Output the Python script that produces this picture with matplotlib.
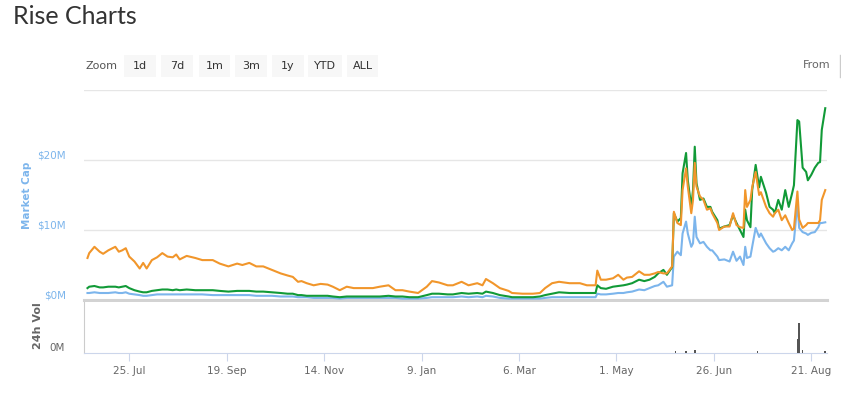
import matplotlib
matplotlib.use("Agg")
import matplotlib.pyplot as plt
from matplotlib.patches import Rectangle
from matplotlib.lines import Line2D
import pandas as pd

# ---------------- data ----------------
dates = [
    '2017-07-01','2017-07-02','2017-07-05','2017-07-08','2017-07-10','2017-07-13','2017-07-17','2017-07-19','2017-07-21','2017-07-23',
    '2017-07-25','2017-07-28','2017-07-31','2017-08-02','2017-08-04','2017-08-07','2017-08-10','2017-08-13','2017-08-16','2017-08-19',
    '2017-08-21','2017-08-23','2017-08-27','2017-09-01','2017-09-05','2017-09-11','2017-09-15','2017-09-20','2017-09-25','2017-09-28',
    '2017-10-02','2017-10-06','2017-10-10','2017-10-15','2017-10-20','2017-10-24','2017-10-27','2017-10-30','2017-11-01','2017-11-04',
    '2017-11-08','2017-11-12','2017-11-16','2017-11-19','2017-11-23','2017-11-27','2017-12-01','2017-12-06','2017-12-12','2017-12-16',
    '2017-12-21','2017-12-25','2017-12-29','2018-01-02','2018-01-07','2018-01-12','2018-01-15','2018-01-19','2018-01-24','2018-01-27',
    '2018-02-01','2018-02-05','2018-02-10','2018-02-13','2018-02-15','2018-02-19','2018-02-23','2018-02-28','2018-03-02','2018-03-08',
    '2018-03-14','2018-03-18','2018-03-21','2018-03-25','2018-03-29','2018-04-04','2018-04-10','2018-04-14','2018-04-19','2018-04-20',
    '2018-04-22','2018-04-25','2018-04-29','2018-05-02','2018-05-05','2018-05-07','2018-05-10','2018-05-14','2018-05-17','2018-05-20',
    '2018-05-23','2018-05-25','2018-05-28','2018-05-30','2018-06-02','2018-06-03','2018-06-05','2018-06-07','2018-06-08','2018-06-10',
    '2018-06-11','2018-06-13','2018-06-14','2018-06-15','2018-06-16','2018-06-18','2018-06-20','2018-06-22','2018-06-24','2018-06-25',
    '2018-06-28','2018-06-29','2018-07-02','2018-07-05','2018-07-07','2018-07-09','2018-07-11','2018-07-13','2018-07-14','2018-07-15',
    '2018-07-17','2018-07-18','2018-07-20','2018-07-22','2018-07-23','2018-07-26','2018-07-28','2018-07-30','2018-07-31','2018-08-02',
    '2018-08-04','2018-08-06','2018-08-08','2018-08-10','2018-08-11','2018-08-13','2018-08-14','2018-08-16','2018-08-18','2018-08-19',
    '2018-08-21','2018-08-23','2018-08-25','2018-08-26','2018-08-27','2018-08-29',
]

# orange series (millions)
series_orange = [
    6.0, 6.7, 7.6, 6.9, 6.6, 7.1, 7.6, 6.9, 7.1, 7.4,
    6.2, 5.5, 4.5, 5.3, 4.5, 5.7, 6.1, 6.7, 6.2, 6.1,
    6.5, 5.8, 6.3, 6.0, 5.7, 5.7, 5.2, 4.8, 5.2, 5.0,
    5.3, 4.8, 4.8, 4.3, 3.8, 3.5, 3.3, 2.6, 2.7, 2.4,
    2.1, 2.3, 2.2, 1.9, 1.4, 1.9, 1.7, 1.7, 1.7, 1.9,
    2.1, 1.4, 1.4, 1.2, 1.0, 1.9, 2.7, 2.5, 2.1, 2.1,
    2.6, 2.1, 2.4, 2.1, 3.0, 2.4, 1.7, 1.3, 1.0, 0.9,
    0.9, 1.0, 1.7, 2.4, 2.6, 2.4, 2.4, 2.1, 2.1, 4.2,
    2.9, 2.9, 3.1, 3.6, 2.9, 3.2, 3.3, 4.1, 3.6, 3.6,
    3.8, 4.0, 3.8, 3.8, 4.8, 12.6, 11.0, 10.7, 15.7, 18.8,
    16.2, 12.4, 14.3, 19.6, 16.2, 14.8, 14.3, 12.9, 13.1, 12.4,
    11.0, 10.0, 10.5, 10.5, 12.4, 10.7, 10.4, 10.3, 15.7, 13.3,
    14.3, 16.1, 18.3, 15.0, 15.4, 13.3, 12.4, 11.9, 12.4, 12.9,
    11.4, 12.1, 11.0, 10.0, 10.2, 15.5, 11.5, 10.3, 10.7, 11.0,
    11.0, 11.0, 11.0, 11.4, 14.3, 15.7,
]

# green series (millions)
series_green = [
    1.7, 1.9, 2.0, 1.8, 1.8, 1.9, 1.9, 1.8, 1.9, 2.0,
    1.7, 1.4, 1.2, 1.1, 1.1, 1.3, 1.4, 1.5, 1.5, 1.4,
    1.5, 1.4, 1.5, 1.4, 1.4, 1.4, 1.3, 1.2, 1.3, 1.3,
    1.3, 1.2, 1.2, 1.1, 1.0, 0.9, 0.9, 0.7, 0.7, 0.6,
    0.6, 0.6, 0.6, 0.5, 0.4, 0.5, 0.5, 0.5, 0.5, 0.5,
    0.6, 0.5, 0.5, 0.4, 0.4, 0.7, 0.9, 0.9, 0.8, 0.8,
    1.0, 0.9, 1.0, 0.9, 1.2, 1.0, 0.7, 0.5, 0.4, 0.4,
    0.4, 0.5, 0.7, 0.9, 1.1, 1.0, 1.0, 1.0, 1.0, 2.1,
    1.7, 1.6, 1.9, 2.0, 2.1, 2.2, 2.4, 2.9, 2.7, 2.9,
    3.3, 3.8, 4.3, 3.6, 4.7, 12.4, 11.2, 11.7, 18.1, 21.0,
    17.1, 13.3, 15.7, 21.9, 16.7, 14.3, 14.5, 13.3, 13.3, 12.6,
    11.4, 10.2, 10.5, 10.7, 12.1, 11.0, 10.0, 9.0, 12.9, 11.4,
    10.4, 15.7, 19.3, 16.1, 17.6, 15.3, 13.3, 12.9, 12.4, 14.3,
    12.9, 15.7, 13.3, 15.3, 16.4, 25.7, 25.5, 18.9, 18.3, 17.1,
    17.9, 18.9, 19.6, 19.7, 24.3, 27.4,
]

# blue series - market cap (millions)
series_blue = [
    1.0, 1.0, 1.1, 1.0, 1.0, 1.0, 1.1, 1.0, 1.0, 1.1,
    0.9, 0.8, 0.7, 0.6, 0.6, 0.7, 0.8, 0.8, 0.8, 0.8,
    0.8, 0.8, 0.8, 0.8, 0.8, 0.7, 0.7, 0.7, 0.7, 0.7,
    0.7, 0.6, 0.6, 0.6, 0.5, 0.5, 0.5, 0.4, 0.4, 0.4,
    0.3, 0.3, 0.3, 0.3, 0.2, 0.3, 0.3, 0.3, 0.3, 0.3,
    0.3, 0.3, 0.2, 0.2, 0.2, 0.3, 0.4, 0.4, 0.4, 0.4,
    0.5, 0.4, 0.5, 0.4, 0.6, 0.5, 0.3, 0.2, 0.2, 0.2,
    0.2, 0.2, 0.3, 0.4, 0.4, 0.4, 0.4, 0.4, 0.4, 0.9,
    0.8, 0.8, 0.9, 1.0, 1.0, 1.1, 1.2, 1.5, 1.4, 1.7,
    2.0, 2.1, 2.6, 1.9, 2.1, 6.2, 6.9, 6.4, 9.5, 11.2,
    9.5, 7.6, 8.1, 11.9, 9.0, 8.1, 8.3, 7.6, 7.1, 7.1,
    6.2, 5.7, 5.8, 5.5, 6.9, 5.6, 6.2, 5.0, 7.6, 6.0,
    6.2, 7.6, 10.3, 9.0, 9.5, 8.1, 7.4, 6.9, 7.0, 7.4,
    7.1, 7.6, 7.1, 8.1, 8.5, 13.8, 10.3, 9.7, 9.5, 9.3,
    9.6, 9.7, 10.4, 11.0, 11.0, 11.1,
]

vol_dates = ['2018-06-04', '2018-06-10', '2018-06-15', '2018-07-21',
             '2018-08-13', '2018-08-14', '2018-08-16', '2018-08-29']
vol_values = [0.12, 0.12, 0.15, 0.10, 0.8, 1.75, 0.18, 0.12]

tick_dates = ['2017-07-25', '2017-09-19', '2017-11-14', '2018-01-09',
              '2018-03-06', '2018-05-01', '2018-06-26', '2018-08-21']
tick_labels = ['25. Jul', '19. Sep', '14. Nov', '9. Jan',
               '6. Mar', '1. May', '26. Jun', '21. Aug']

y_ticks = [0, 10, 20, 30]
y_labels = ['$0M', '$10M', '$20M', '']

zoom_buttons = ['1d', '7d', '1m', '3m', '1y', 'YTD', 'ALL']

# ---------------- figure ----------------
W, H = 841, 399
fig = plt.figure(figsize=(W / 100, H / 100), dpi=100)
fig.patch.set_facecolor('white')


def fx(px):
    return px / W


def fy(py):
    return 1 - py / H


d = pd.to_datetime(dates)
vd = pd.to_datetime(vol_dates)
xmin, xmax = pd.Timestamp('2017-06-29'), pd.Timestamp('2018-08-30')

ax = fig.add_axes([fx(84), fy(300), fx(827) - fx(84), fy(90) - fy(300)])
axv = fig.add_axes([fx(84), fy(353), fx(827) - fx(84), fy(302) - fy(353)])

ax.plot(d, series_blue, color='#7cb5ec', lw=1.5, zorder=3, solid_joinstyle='round')
ax.plot(d, series_green, color='#119a37', lw=1.5, zorder=4, solid_joinstyle='round')
ax.plot(d, series_orange, color='#f1962b', lw=1.5, zorder=5, solid_joinstyle='round')

ax.set_xlim(xmin, xmax)
ax.set_ylim(0, 30)
ax.set_yticks(y_ticks)
ax.set_yticklabels(y_labels)
ax.grid(axis='y', color='#e6e6e6', lw=1)
ax.set_axisbelow(True)
ax.tick_params(axis='y', length=0, pad=13, labelcolor='#7cb5ec', labelsize=7.5)
ax.tick_params(axis='x', bottom=False, labelbottom=False)
for lab in ax.get_yticklabels():
    lab.set_va('bottom')
for s in ['top', 'left', 'right']:
    ax.spines[s].set_visible(False)
ax.spines['bottom'].set_color('#d3d3d3')
ax.spines['bottom'].set_linewidth(2.2)

# volume panel
axv.bar(vd, vol_values, width=0.9, color='#555555', zorder=3)
axv.set_xlim(xmin, xmax)
axv.set_ylim(0, 3)
axv.set_yticks([0])
axv.set_yticklabels(['0M'])
axv.tick_params(axis='y', length=0, pad=14, labelcolor='#666666', labelsize=7.5)
for lab in axv.get_yticklabels():
    lab.set_va('bottom')
axv.set_xticks(pd.to_datetime(tick_dates))
axv.set_xticklabels(tick_labels)
axv.tick_params(axis='x', length=6, color='#ccd6eb', labelcolor='#666666',
                labelsize=7.5, pad=3)
for s in ['top', 'right']:
    axv.spines[s].set_visible(False)
axv.spines['left'].set_color('#cccccc')
axv.spines['bottom'].set_color('#ccd6eb')

# axis titles
fig.text(fx(27), fy(195), 'Market Cap', rotation=90, color='#7cb5ec',
         fontsize=7.5, fontweight='bold', ha='center', va='center')
fig.text(fx(38), fy(326), '24h Vol', rotation=90, color='#666666',
         fontsize=8, fontweight='bold', ha='center', va='center')

# title
fig.text(fx(13), fy(24), 'Rise Charts', fontsize=18, family=['Lato', 'DejaVu Sans'],
         color='#333333', ha='left', va='baseline')

# range selector
fig.text(fx(86), fy(66), 'Zoom', fontsize=8, color='#555555', ha='left', va='center')
btn_left = [124, 161, 199, 235, 272, 308, 347]
btn_w = [32, 32, 31, 32, 32, 34, 31]
for lbl, bx, bw in zip(zoom_buttons, btn_left, btn_w):
    fig.add_artist(Rectangle((fx(bx), fy(77)), fx(bw), fy(55) - fy(77),
                             transform=fig.transFigure, facecolor='#f7f7f7',
                             edgecolor='none'))
    fig.text(fx(bx + bw / 2), fy(66), lbl, fontsize=8, color='#333333',
             ha='center', va='center')

fig.text(fx(803), fy(65), 'From', fontsize=8, color='#666666', ha='left', va='center')
fig.add_artist(Line2D([fx(839.5), fx(839.5)], [fy(55), fy(77)],
                      transform=fig.transFigure, color='#cccccc', lw=1))

fig.savefig('out.png', dpi=100, facecolor='white')
